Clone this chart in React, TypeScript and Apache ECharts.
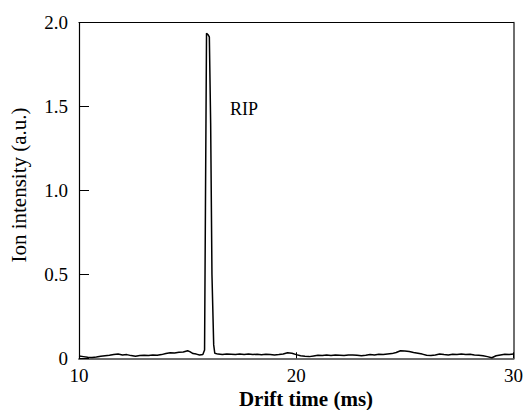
import React, { useEffect, useRef } from "react";
import * as echarts from "echarts";

const driftTime: number[] = [
  10.0, 10.2, 10.4, 10.6, 10.8, 11.0, 11.2, 11.4, 11.6, 11.8, 12.0, 12.2, 12.4, 12.6, 12.8, 13.0, 13.2, 13.4, 13.6, 13.8,
  14.0, 14.2, 14.4, 14.6, 14.8, 15.0, 15.1, 15.25, 15.4, 15.55, 15.7, 15.78, 15.82, 15.87, 15.93, 16.0, 16.06, 16.12, 16.2, 16.25,
  16.4, 16.6, 16.8, 17.0, 17.2, 17.4, 17.6, 17.8, 18.0, 18.2, 18.4, 18.6, 18.8, 19.0, 19.2, 19.4, 19.6, 19.8, 20.0, 20.2,
  20.4, 20.6, 20.8, 21.0, 21.2, 21.4, 21.6, 21.8, 22.0, 22.2, 22.4, 22.6, 22.8, 23.0, 23.2, 23.4, 23.6, 23.8, 24.0, 24.2,
  24.4, 24.6, 24.8, 25.0, 25.2, 25.4, 25.6, 25.8, 26.0, 26.2, 26.4, 26.6, 26.8, 27.0, 27.2, 27.4, 27.6, 27.8, 28.0, 28.2,
  28.4, 28.6, 28.8, 29.0, 29.2, 29.4, 29.6, 29.8, 30.0,
];

const intensity: number[] = [
  0.014, 0.010, 0.006, 0.005, 0.008, 0.012, 0.015, 0.018, 0.022, 0.025, 0.020, 0.022, 0.016, 0.012, 0.016, 0.018, 0.016, 0.020, 0.018, 0.022,
  0.028, 0.033, 0.032, 0.036, 0.038, 0.045, 0.040, 0.028, 0.025, 0.020, 0.022, 0.05, 0.9, 1.937, 1.93, 1.915, 1.40, 0.50, 0.08, 0.03,
  0.025, 0.022, 0.025, 0.024, 0.022, 0.025, 0.023, 0.025, 0.022, 0.024, 0.021, 0.024, 0.022, 0.020, 0.022, 0.026, 0.033, 0.030, 0.022, 0.015,
  0.012, 0.010, 0.014, 0.018, 0.016, 0.020, 0.017, 0.020, 0.018, 0.016, 0.019, 0.020, 0.018, 0.015, 0.018, 0.022, 0.020, 0.024, 0.022, 0.026,
  0.028, 0.035, 0.045, 0.043, 0.040, 0.034, 0.030, 0.025, 0.018, 0.016, 0.020, 0.025, 0.022, 0.020, 0.024, 0.022, 0.025, 0.022, 0.024, 0.020,
  0.018, 0.015, 0.010, 0.003, 0.015, 0.020, 0.024, 0.022, 0.025,
];

const xTicks: number[] = [10, 20, 30];
const yTickLabels: string[] = ["0", "0.5", "1.0", "1.5", "2.0"];

const FONT = "Times New Roman, Liberation Serif, DejaVu Serif, serif";

export default function App() {
  const ref = useRef<HTMLDivElement>(null);
  useEffect(() => {
    if (!ref.current) return;
    const chart = echarts.init(ref.current, undefined, { renderer: "svg" });
    const data = driftTime.map((t, i) => [t, intensity[i]]);
    chart.setOption({
      animation: false,
      backgroundColor: "#fff",
      textStyle: { fontFamily: FONT },
      grid: { left: 79, right: 11.5, top: 22.7, bottom: 51.7 },
      xAxis: [
        {
          type: "value",
          min: 10,
          max: 30,
          interval: 10,
          position: "bottom",
          axisLine: { show: true, onZero: false, lineStyle: { color: "#6e6e6e", width: 2 } },
          axisTick: { show: true, inside: true, length: 6, lineStyle: { color: "#000", width: 1 } },
          axisLabel: {
            color: "#000",
            fontFamily: FONT,
            fontSize: 19,
            margin: 8,
            formatter: (v: number) => (xTicks.includes(v) ? String(v) : ""),
          },
          splitLine: { show: false },
        },
        {
          type: "value",
          min: 10,
          max: 30,
          position: "top",
          axisLine: { show: true, onZero: false, lineStyle: { color: "#000", width: 1.2 } },
          axisTick: { show: false },
          axisLabel: { show: false },
          splitLine: { show: false },
        },
      ],
      yAxis: [
        {
          type: "value",
          min: 0,
          max: 2,
          interval: 0.5,
          position: "left",
          axisLine: { show: true, onZero: false, lineStyle: { color: "#000", width: 1.2 } },
          axisTick: { show: true, inside: true, length: 10, lineStyle: { color: "#000", width: 1 } },
          axisLabel: {
            color: "#000",
            fontFamily: FONT,
            fontSize: 19,
            margin: 11,
            formatter: (v: number) => yTickLabels[Math.round(v / 0.5)] ?? "",
          },
          splitLine: { show: false },
        },
        {
          type: "value",
          min: 0,
          max: 2,
          position: "right",
          axisLine: { show: true, onZero: false, lineStyle: { color: "#6e6e6e", width: 2 } },
          axisTick: { show: false },
          axisLabel: { show: false },
          splitLine: { show: false },
        },
      ],
      graphic: [
        {
          type: "text",
          x: 18.5,
          y: 185,
          rotation: Math.PI / 2,
          style: {
            text: "Ion intensity (a.u.)",
            fontFamily: FONT,
            fontSize: 21,
            fill: "#000",
            align: "center",
            verticalAlign: "middle",
          },
        },
        {
          type: "text",
          x: 306,
          y: 399,
          style: {
            text: "Drift time (ms)",
            fontFamily: FONT,
            fontSize: 21,
            fontWeight: "bold",
            fill: "#000",
            align: "center",
            verticalAlign: "middle",
          },
        },
        {
          type: "text",
          x: 244,
          y: 109,
          style: {
            text: "RIP",
            fontFamily: FONT,
            fontSize: 18,
            fill: "#000",
            align: "center",
            verticalAlign: "middle",
          },
        },
      ],
      series: [
        {
          type: "line",
          xAxisIndex: 0,
          yAxisIndex: 0,
          data,
          showSymbol: false,
          symbol: "none",
          smooth: false,
          lineStyle: { color: "#000", width: 1.5 },
        },
      ],
    });
    return () => chart.dispose();
  }, []);
  return (
    <div
      ref={ref}
      style={{ position: "absolute", left: 0, top: 0, width: 526, height: 410 }}
    />
  );
}
